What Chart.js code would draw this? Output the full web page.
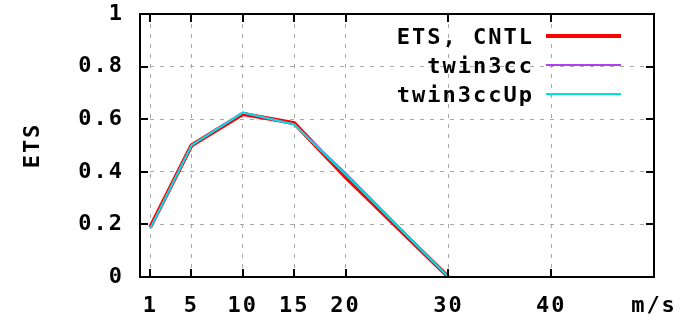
<!DOCTYPE html>
<html><head><meta charset="utf-8">
<script src="https://cdn.jsdelivr.net/npm/chart.js@4.4.1/dist/chart.umd.min.js"></script>
<style>html,body{margin:0;padding:0;background:#fff}canvas{display:block}</style>
</head><body>
<canvas id="c" width="685" height="321"></canvas>
<script>
// Wind-speed bins and ETS scores per experiment
const speeds = [1, 5, 10, 15, 20, 30];
const etsCntl = [0.19, 0.50, 0.62, 0.585, 0.38, 0.0];
const etsTwin3cc = [0.185, 0.50, 0.625, 0.58, 0.395, 0.0];
const etsTwin3ccUp = [0.185, 0.50, 0.625, 0.58, 0.39, 0.0];
const seriesNames = ['ETS, CNTL', 'twin3cc', 'twin3ccUp'];

const xTicks = [1, 5, 10, 15, 20, 30, 40, 50];
const xTickLabels = ['1', '5', '10', '15', '20', '30', '40', 'm/s'];
const yTicks = [0, 0.2, 0.4, 0.6, 0.8, 1];
const yTickLabels = ['0', '0.2', '0.4', '0.6', '0.8', '1'];

const FONT = { family: "'DejaVu Sans Mono', 'Liberation Mono', monospace", size: 22, weight: 'bold' };
const SPACING = '2px';

const toPoints = ys => speeds.map((x, i) => ({ x, y: ys[i] }));

const spacingPlugin = {
  id: 'spacing',
  beforeLayout(chart) { chart.ctx.letterSpacing = SPACING; },
  beforeDraw(chart) { chart.ctx.letterSpacing = SPACING; }
};

// Frame with inward tick marks on all four sides
const framePlugin = {
  id: 'frame',
  afterDatasetsDraw(chart) {
    const { ctx, chartArea: a, scales: { x, y } } = chart;
    const len = 8;
    ctx.save();
    ctx.strokeStyle = '#000';
    ctx.lineWidth = 2;
    ctx.beginPath();
    xTicks.slice(0, -1).forEach(v => {
      const px = Math.round(x.getPixelForValue(v));
      ctx.moveTo(px, a.bottom); ctx.lineTo(px, a.bottom - len);
      ctx.moveTo(px, a.top); ctx.lineTo(px, a.top + len);
    });
    yTicks.slice(1, -1).forEach(v => {
      const py = Math.round(y.getPixelForValue(v));
      ctx.moveTo(a.left, py); ctx.lineTo(a.left + len, py);
      ctx.moveTo(a.right, py); ctx.lineTo(a.right - len, py);
    });
    ctx.stroke();
    ctx.strokeRect(a.left, a.top, a.right - a.left, a.bottom - a.top);
    ctx.restore();
  }
};

// Key in the upper right: label text, then a line sample
const keyPlugin = {
  id: 'key',
  afterDatasetsDraw(chart) {
    const { ctx, chartArea: a } = chart;
    const lineEnd = a.right - 33;
    const lineStart = lineEnd - 75;
    const textRight = lineStart - 14;
    ctx.save();
    ctx.letterSpacing = SPACING;
    ctx.font = `${FONT.weight} ${FONT.size}px ${FONT.family}`;
    ctx.textAlign = 'right';
    ctx.textBaseline = 'middle';
    chart.data.datasets.forEach((ds, i) => {
      const yy = a.top + 22 + i * 29;
      ctx.fillStyle = '#000';
      ctx.fillText(ds.label, textRight + 2, yy + 2);
      ctx.strokeStyle = ds.borderColor;
      ctx.lineWidth = ds.borderWidth;
      ctx.beginPath();
      ctx.moveTo(lineStart, yy); ctx.lineTo(lineEnd, yy);
      ctx.stroke();
    });
    ctx.restore();
  }
};

const gridColor = edge => ctx => (edge.includes(ctx.tick && ctx.tick.value) ? 'rgba(0,0,0,0)' : '#a8a8a8');
const noPad = s => { s.paddingLeft = 0; s.paddingRight = 0; s.paddingTop = 0; s.paddingBottom = 0; };

new Chart(document.getElementById('c'), {
  type: 'line',
  data: {
    datasets: [
      { label: seriesNames[0], data: toPoints(etsCntl), borderColor: '#ff0000', borderWidth: 4, order: 3 },
      { label: seriesNames[1], data: toPoints(etsTwin3cc), borderColor: '#b040f0', borderWidth: 2, order: 2 },
      { label: seriesNames[2], data: toPoints(etsTwin3ccUp), borderColor: '#00e0e0', borderWidth: 2, order: 1 }
    ]
  },
  options: {
    responsive: false,
    animation: false,
    devicePixelRatio: 1,
    layout: { padding: { top: 14, right: 31, left: 0, bottom: 0 } },
    elements: { point: { radius: 0 }, line: { tension: 0 } },
    plugins: { legend: { display: false }, tooltip: { enabled: false } },
    scales: {
      x: {
        type: 'linear', min: 0, max: 50,
        afterBuildTicks: s => { s.ticks = xTicks.map(v => ({ value: v })); },
        afterFit: s => { s.height = 44; noPad(s); },
        ticks: {
          autoSkip: false, maxRotation: 0, padding: 16, color: '#000', font: FONT,
          callback: v => xTickLabels[xTicks.indexOf(v)]
        },
        grid: { drawTicks: false, color: gridColor([0, 50]), lineWidth: 1 },
        border: { display: false, dash: [4, 6] }
      },
      y: {
        min: 0, max: 1,
        afterBuildTicks: s => { s.ticks = yTicks.map(v => ({ value: v })); },
        afterFit: s => { s.width = 140; noPad(s); },
        ticks: {
          padding: 16, color: '#000', font: FONT,
          callback: v => yTickLabels[yTicks.indexOf(v)]
        },
        title: { display: true, text: 'ETS', color: '#000', font: FONT, padding: { top: 20, bottom: 0 } },
        grid: { drawTicks: false, color: gridColor([0, 1]), lineWidth: 1 },
        border: { display: false, dash: [4, 6] }
      }
    }
  },
  plugins: [spacingPlugin, framePlugin, keyPlugin]
});
</script>
</body></html>
